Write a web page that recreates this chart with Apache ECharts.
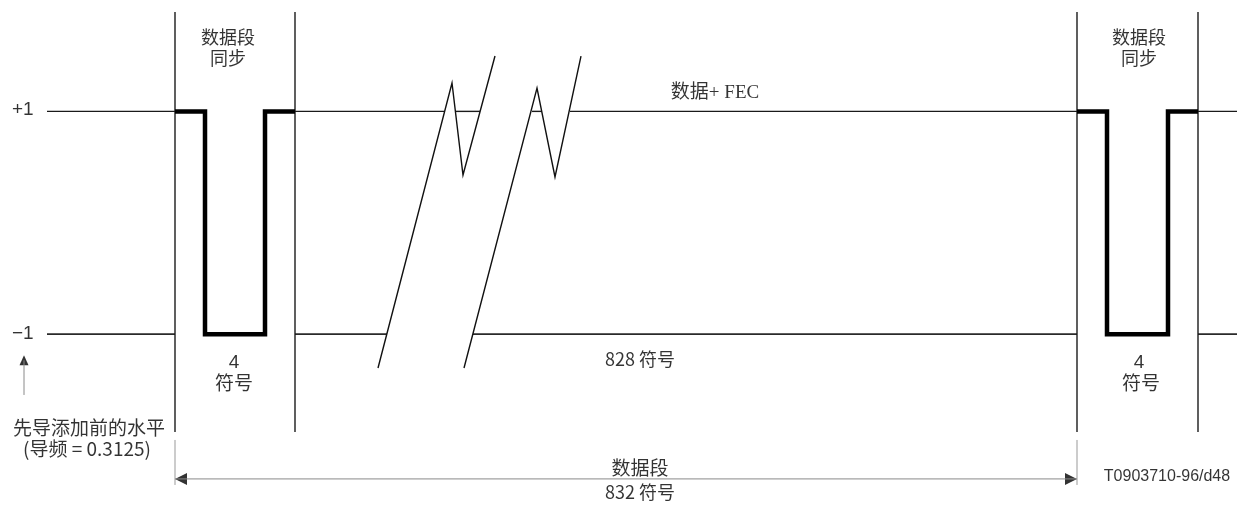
<!DOCTYPE html>
<html>
<head>
<meta charset="utf-8">
<style>
  html, body { margin: 0; padding: 0; background: #fff; }
  #chart { width: 1237px; height: 505px; }
</style>
<script src="https://cdn.jsdelivr.net/npm/echarts@6/dist/echarts.min.js"></script>
</head>
<body>
<div id="chart"></div>
<script>
var myChart = echarts.init(document.getElementById('chart'));

// x: 图上横向位置, y: 电平 (+1 / -1)
var syncPulseX = [[175, 205, 265, 295], [1077, 1107, 1168, 1198]]; // 数据段同步 4 符号
var boundaryX = [175, 295, 1077, 1198];   // 同步区竖线
var boundaryLevel = [1.892, -1.879];
var extensionX = [175, 1077];             // 尺寸线
var extensionLevel = [-1.950, -2.354];
var arrowLevel = -2.300;
var arrowHeadX = [181, 1071];
var plusSegments = [[47, 175], [295, 445], [455, 480], [532, 542], [570, 1077], [1198, 1237]];
var minusSegments = [[47, 175], [295, 387], [473, 1077], [1198, 1237]];
// 断开符号
var breakLines = [
  [[378, -1.304], [452, 1.255], [463, 0.429], [495, 1.497]],
  [[464, -1.304], [537, 1.210], [555, 0.411], [581, 1.497]]
];
var levelArrow = [[24, -1.546], [24, -1.235]];
var levelArrowHead = [24, -1.235];

// 文字
var labelText = ['+1', '\u22121', '数据段', '同步', '数据段', '同步', '4', '符号', '4', '符号',
  '数据+ FEC', '828 符号', '先导添加前的水平', '(导频 = 0.3125)', '数据段', '832 符号', 'T0903710-96/d48'];
var labelX = [12, 12, 228, 228, 1139, 1139, 234, 234, 1139, 1141,
  715, 640, 89, 87, 640, 640, 1167];
var labelY = [1.012, -1.0, 1.663, 1.479, 1.663, 1.479, -1.259, -1.439, -1.259, -1.439,
  1.165, -1.223, -1.843, -2.031, -2.202, -2.417, -2.283];

var sans = '"Liberation Sans", Arial, sans-serif';
var cjk = '"Noto Sans CJK SC", "Liberation Sans", sans-serif';
var serif = '"Liberation Serif", "Noto Sans CJK SC", serif';
var labelFont = [
  [sans, 19, 'left'], [sans, 19, 'left'],
  [cjk, 18, 'center'], [cjk, 18, 'center'], [cjk, 18, 'center'], [cjk, 18, 'center'],
  [sans, 19, 'center'], [cjk, 19, 'center'], [sans, 19, 'center'], [cjk, 19, 'center'],
  [serif, 19, 'center'], [cjk, 18, 'center'],
  [cjk, 19, 'center'], [cjk, 19, 'center'], [cjk, 19, 'center'], [cjk, 18, 'center'],
  [sans, 16, 'center']
];

var series = [];

function seg(data, width, color) {
  series.push({
    type: 'line',
    data: data,
    symbol: 'none',
    silent: true,
    lineStyle: { width: width, color: color, cap: 'butt', join: 'miter' }
  });
}

plusSegments.forEach(function (s) { seg([[s[0], 1], [s[1], 1]], 1.4, '#1a1a1a'); });
minusSegments.forEach(function (s) { seg([[s[0], -1], [s[1], -1]], 1.6, '#2a2a2a'); });
boundaryX.forEach(function (x) { seg([[x, boundaryLevel[0]], [x, boundaryLevel[1]]], 1.4, '#1a1a1a'); });
extensionX.forEach(function (x) { seg([[x, extensionLevel[0]], [x, extensionLevel[1]]], 1, '#999'); });
breakLines.forEach(function (b) { seg(b, 1.4, '#111'); });
seg([[extensionX[0], arrowLevel], [extensionX[1], arrowLevel]], 1, '#8a8a8a');
seg(levelArrow, 1, '#8a8a8a');

syncPulseX.forEach(function (p) {
  seg([[p[0], 1], [p[1], 1], [p[1], -1], [p[2], -1], [p[2], 1], [p[3], 1]], 4.5, '#000');
});

// 箭头
series.push({
  type: 'scatter',
  silent: true,
  symbol: 'triangle',
  itemStyle: { color: '#000' },
  data: [
    { value: [arrowHeadX[0], arrowLevel], symbolRotate: 90, symbolSize: [12, 12] },
    { value: [arrowHeadX[1], arrowLevel], symbolRotate: -90, symbolSize: [12, 12] },
    { value: levelArrowHead, symbolRotate: 0, symbolSize: [9, 10] }
  ]
});

series.push({
  type: 'scatter',
  symbol: 'circle',
  symbolSize: 1,
  silent: true,
  itemStyle: { color: 'rgba(0,0,0,0)' },
  data: labelText.map(function (t, i) {
    return {
      value: [labelX[i], labelY[i]],
      label: {
        show: true,
        position: 'inside',
        formatter: t,
        color: '#000',
        fontFamily: labelFont[i][0],
        fontSize: labelFont[i][1],
        align: labelFont[i][2],
        verticalAlign: 'middle'
      }
    };
  })
});

var option = {
  animation: false,
  backgroundColor: '#fff',
  grid: { left: 0, right: 0, top: 0, bottom: 0 },
  xAxis: { type: 'value', min: 0, max: 1237, show: false },
  yAxis: { type: 'value', min: -2.534, max: 2.0, show: false },
  series: series
};

myChart.setOption(option);
</script>
</body>
</html>
